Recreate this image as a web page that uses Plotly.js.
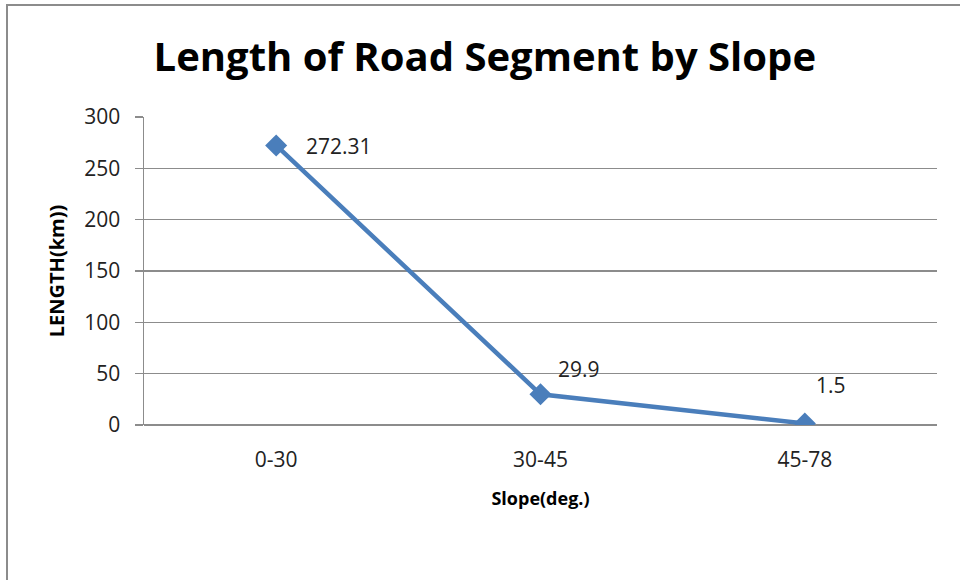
<!DOCTYPE html>
<html><head><meta charset="utf-8">
<script src="https://cdn.plot.ly/plotly-3.0.1.min.js"></script>
<style>
html,body{margin:0;padding:0;background:#fff;}
#wrap{position:relative;width:960px;height:580px;overflow:hidden;}
#chart{width:960px;height:580px;}
#frame{position:absolute;left:6px;top:4px;width:1000px;height:1000px;border-left:2px solid #8c8c8c;border-top:2px solid #8c8c8c;pointer-events:none;}
</style></head>
<body><div id="wrap"><div id="chart"></div><div id="frame"></div></div>
<script>
const categories = ["0-30", "30-45", "45-78"];
const lengths = [272.31, 29.9, 1.5];
const labelTexts = ["272.31", "29.9", "1.5"];
const yTicks = [0, 50, 100, 150, 200, 250, 300];

const font = "'Open Sans', 'Noto Sans', sans-serif";
const blue = "#4a7ebb";

const trace = {
  x: categories, y: lengths, type: "scatter", mode: "lines+markers",
  line: {color: blue, width: 4.5},
  marker: {symbol: "diamond", size: 17, color: blue},
  hoverinfo: "skip"
};

// label offsets (positioning only)
const shifts = [[63, -1], [38, 25], [26, 38]];
const annotations = categories.map((c, i) => ({
  x: c, y: lengths[i], xref: "x", yref: "y", text: labelTexts[i],
  showarrow: false, xanchor: "center", yanchor: "middle",
  xshift: shifts[i][0], yshift: shifts[i][1],
  font: {family: font, size: 21, color: "#222"}
}));

const layout = {
  width: 960, height: 580,
  margin: {l: 144, r: 23, t: 117, b: 155},
  paper_bgcolor: "#fff", plot_bgcolor: "#fff",
  showlegend: false,
  title: {text: "<b>Length of Road Segment by Slope</b>", x: 0.505, xanchor: "center", y: 0.902, yanchor: "middle",
          font: {family: font, size: 40, color: "#000"}},
  xaxis: {
    type: "category", range: [-0.5, 2.5], showgrid: false, zeroline: false,
    showline: false, ticks: "", tickfont: {family: font, size: 21, color: "#222"},
    ticklabelstandoff: 20,
    title: {text: "<b>Slope(deg.)</b>", font: {family: font, size: 18, color: "#000"}, standoff: 20}
  },
  yaxis: {
    range: [0, 300], tickvals: yTicks, ticktext: yTicks.map(String),
    showgrid: true, gridcolor: "#8c8c8c", gridwidth: 1.5,
    zeroline: true, zerolinecolor: "#8c8c8c", zerolinewidth: 1.5,
    showline: true, linecolor: "#8c8c8c", linewidth: 1.5,
    ticks: "outside", ticklen: 8, tickcolor: "#8c8c8c", tickwidth: 1.5,
    tickfont: {family: font, size: 21, color: "#222"}, ticklabelstandoff: 10,
    title: {text: "<b>LENGTH(km))</b>", font: {family: font, size: 20, color: "#000"}, standoff: 14}
  },
  annotations: annotations
};

Plotly.newPlot("chart", [trace], layout, {displayModeBar: false, staticPlot: true});
</script></body></html>
